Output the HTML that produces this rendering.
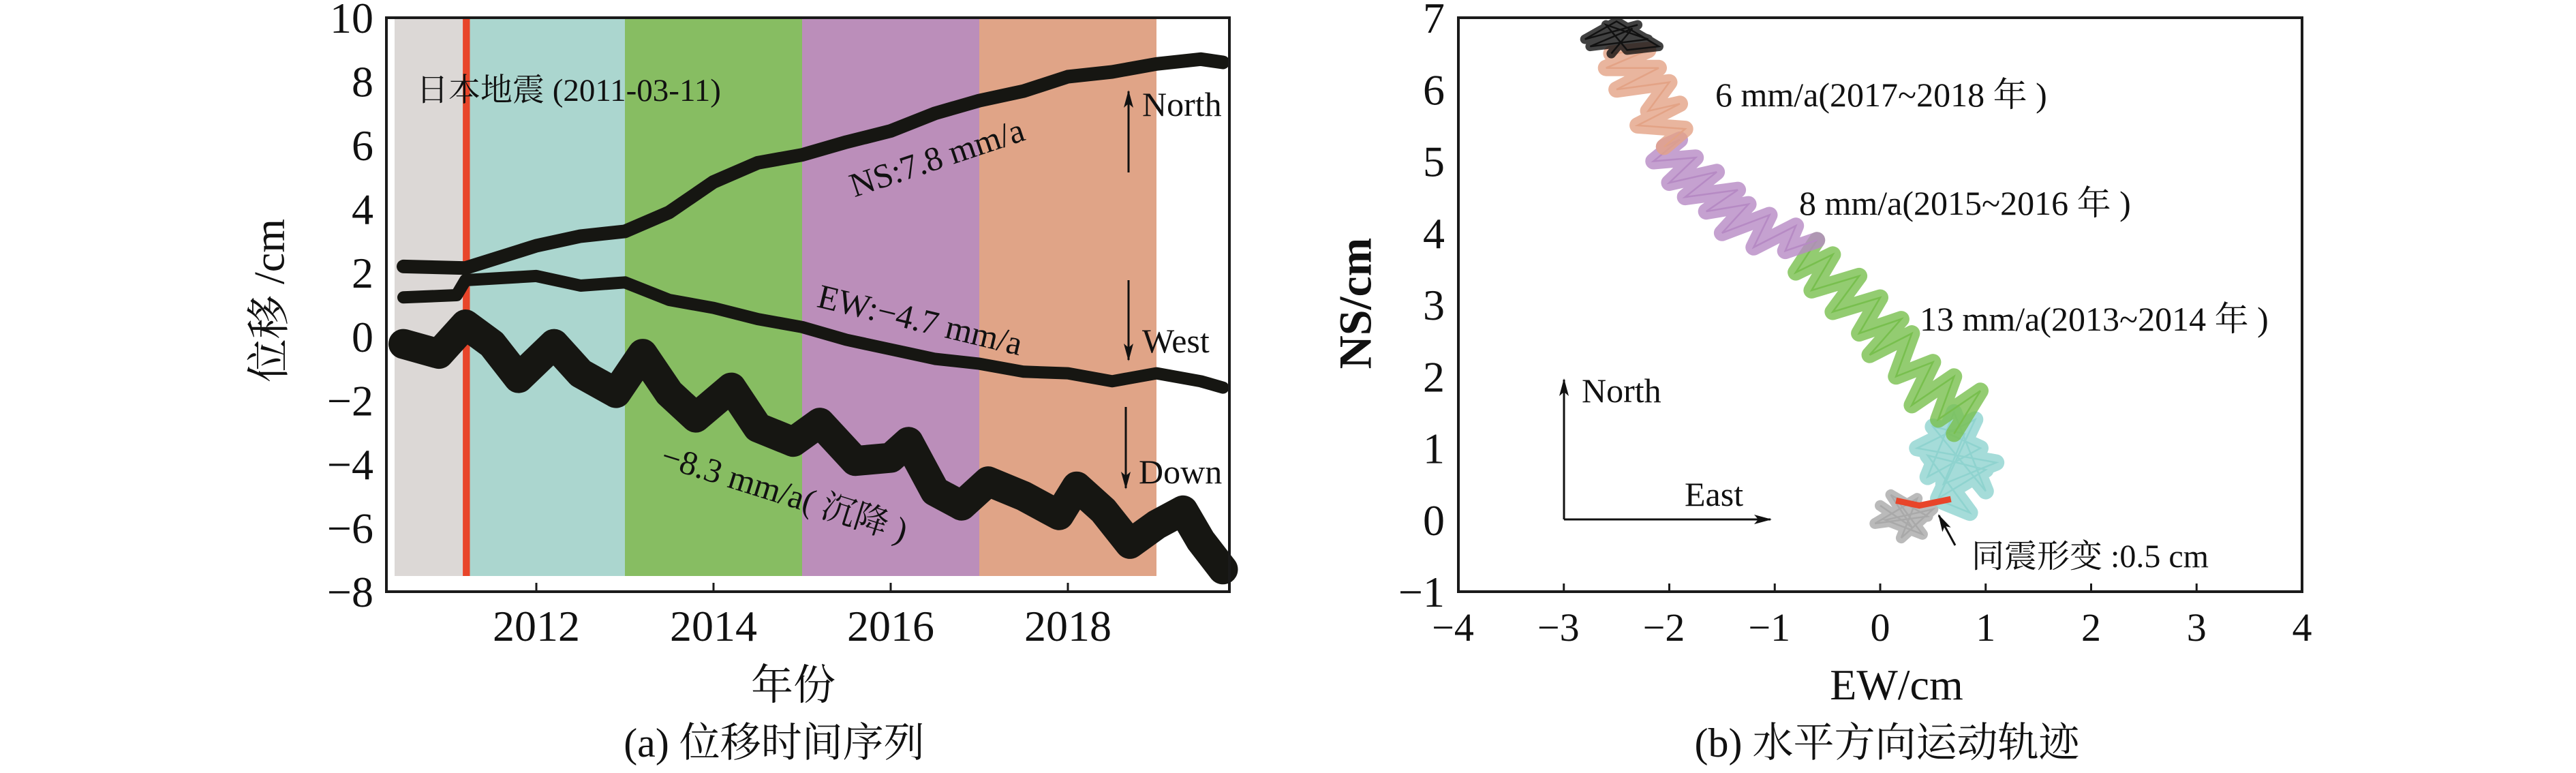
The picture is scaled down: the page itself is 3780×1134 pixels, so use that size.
<!DOCTYPE html>
<html><head><meta charset="utf-8"><style>
html,body{margin:0;padding:0;background:#fff;}
svg{display:block;}
text{font-family:"Liberation Serif","Noto Serif CJK SC","Noto Sans CJK SC",serif;fill:#111;}
</style></head><body>
<svg id="fig" width="3780" height="1134" viewBox="0 0 3780 1134" xmlns="http://www.w3.org/2000/svg">
<g id="pa"></g>
<g id="pb"></g>
</svg>
<script>
// ---------- Panel (a) data ----------
const bandStarts = [2010.40, 2011.25, 2013.0, 2015.0, 2017.0];
const bandEnds   = [2011.17, 2013.0, 2015.0, 2017.0, 2019.0];
const bandNames  = ['band-pre-quake','band-2011-2012','band-2013-2014','band-2015-2016','band-2017-2018'];
const bandColors = ['#dcd8d6','#abd6cf','#87bd62','#bb8eba','#e0a487'];
const quakeYear = 2011.17;
const yearTicks = [2012, 2014, 2016, 2018];
const dispTicks = [10, 8, 6, 4, 2, 0, -2, -4, -6, -8];
const nsYears = [2010.5,2011.2,2012,2012.5,2013,2013.5,2014,2014.5,2015,2015.5,2016,2016.5,2017,2017.5,2018,2018.5,2019,2019.5,2019.75];
const nsVals  = [2.2,2.15,2.85,3.15,3.3,3.9,4.85,5.45,5.7,6.1,6.45,7.0,7.4,7.7,8.15,8.3,8.55,8.7,8.6];
const ewYears = [2010.5,2011.1,2011.2,2012,2012.5,2013,2013.5,2014,2014.5,2015,2015.5,2016,2016.5,2017,2017.5,2018,2018.5,2019,2019.5,2019.75];
const ewVals  = [1.23,1.3,1.77,1.9,1.6,1.7,1.15,0.9,0.55,0.3,-0.1,-0.4,-0.7,-0.85,-1.1,-1.15,-1.4,-1.15,-1.4,-1.6];
const upYears = [2010.5,2010.9,2011.2,2011.5,2011.8,2012.2,2012.5,2012.9,2013.2,2013.5,2013.8,2014.2,2014.5,2014.9,2015.2,2015.6,2016.0,2016.2,2016.5,2016.8,2017.1,2017.5,2017.9,2018.1,2018.4,2018.7,2019.0,2019.3,2019.5,2019.75];
const upVals  = [-0.23,-0.54,0.38,-0.23,-1.3,-0.23,-1.15,-1.77,-0.54,-1.77,-2.54,-1.6,-2.85,-3.3,-2.7,-3.9,-3.8,-3.3,-4.85,-5.3,-4.54,-5.0,-5.6,-4.7,-5.45,-6.5,-5.9,-5.45,-6.4,-7.3];

// ---------- Panel (b) data ----------
const ewTicks = [-4,-3,-2,-1,0,1,2,3,4];
const nsTicks = [7,6,5,4,3,2,1,0,-1];
const trajGray   = [[0.0,0.2],[0.3,-0.1],[0.1,0.35],[0.45,0.05],[-0.05,-0.05],[0.35,0.3],[0.2,-0.25],[0.5,0.15],[0.05,0.0],[0.4,-0.2],[0.15,0.3],[0.3,0.0]];
const trajRed    = [[0.15,0.27],[0.37,0.2],[0.67,0.29]];
const trajCyan   = [[0.6,0.25],[0.85,0.1],[0.45,0.9],[1.0,0.7],[0.55,0.3],[0.9,1.4],[0.35,1.0],[1.1,0.8],[0.6,0.5],[0.8,1.2],[0.5,1.3],[1.0,0.4],[0.7,1.5],[0.45,0.6],[0.95,1.0],[0.65,1.2]];
const trajGreen  = [[0.7,1.2],[0.95,1.8],[0.55,1.4],[0.7,2.0],[0.3,1.6],[0.5,2.2],[0.15,2.0],[0.3,2.6],[-0.1,2.3],[0.2,2.8],[-0.2,2.6],[0.0,3.1],[-0.45,2.9],[-0.2,3.4],[-0.65,3.2],[-0.45,3.7],[-0.8,3.45],[-0.6,3.9]];
const trajPurple = [[-0.6,3.9],[-0.9,3.75],[-0.8,4.1],[-1.2,3.8],[-1.05,4.25],[-1.5,4.0],[-1.25,4.4],[-1.65,4.3],[-1.35,4.6],[-1.85,4.5],[-1.55,4.85],[-2.0,4.7],[-1.75,5.05],[-2.15,5.0],[-1.9,5.3],[-2.05,5.2]];
const trajOrange = [[-2.05,5.2],[-1.85,5.45],[-2.3,5.5],[-1.9,5.8],[-2.2,5.7],[-2.0,6.1],[-2.5,6.0],[-2.1,6.3],[-2.6,6.3],[-2.2,6.55],[-2.55,6.5]];
const trajBlack  = [[-2.55,6.5],[-2.35,6.85],[-2.75,6.6],[-2.2,6.7],[-2.6,6.9],[-2.4,6.55],[-2.1,6.6],[-2.5,6.95],[-2.8,6.7],[-2.3,6.9]];

const NS='http://www.w3.org/2000/svg';
const SERIF='"Liberation Serif", serif';
function mk(parent, tag, attrs, txt){
  const e=document.createElementNS(NS,tag);
  for(const k in attrs) e.setAttribute(k,attrs[k]);
  if(txt!==undefined) e.textContent=txt;
  parent.appendChild(e); return e;
}
const pa=document.getElementById('pa'), pb=document.getElementById('pb');

const ax=t=>787+(t-2012)*130;
const ay=v=>26+(10-v)*46.78;
const A={l:567,r:1804,t:26,b:868};

bandStarts.forEach((s,i)=>{
  const r=mk(pa,'rect',{x:ax(s),y:27.5,width:ax(bandEnds[i])-ax(s),height:845-27.5,fill:bandColors[i]});
  
  
});
const q=mk(pa,'rect',{x:ax(quakeYear),y:27.5,width:ax(2011.25)-ax(quakeYear),height:845-27.5,fill:'#e8452a'});



function series(years, vals, w, name){
  const d=years.map((t,i)=>(i?'L':'M')+ax(t).toFixed(1)+' '+ay(vals[i]).toFixed(1)).join(' ');
  const p=mk(pa,'path',{d:d,fill:'none',stroke:'#161612',"stroke-width":w,"stroke-linejoin":'round',"stroke-linecap":'round'});
  
  
}
series(nsYears, nsVals, 20, 'ns-series');
series(ewYears, ewVals, 18, 'ew-series');
series(upYears, upVals, 44, 'up-series');

const fa=mk(pa,'rect',{x:A.l,y:A.t,width:A.r-A.l,height:A.b-A.t,fill:'none',stroke:'#1a1a1a',"stroke-width":4});


yearTicks.forEach(t=>{
  const l=mk(pa,'line',{x1:ax(t),x2:ax(t),y1:A.b,y2:A.b-13,stroke:'#1a1a1a',"stroke-width":3});
  
  
  const tx=mk(pa,'text',{x:ax(t),y:940,"font-size":64,"font-family":SERIF,"text-anchor":'middle'},String(t));
  
  
});
dispTicks.forEach(v=>{
  const tx=mk(pa,'text',{x:548,y:ay(v)+22,"font-size":64,"font-family":SERIF,"text-anchor":'end'},v<0?'\u2212'+(-v):String(v));
  
  
});

const bx=e=>2140+(e+4)*154.75;
const by=n=>26+(7-n)*105.25;
const B={l:2140,r:3378,t:26,b:868};
function traj(pts,color,name,thick){
  const d=pts.map((p,i)=>(i?'L':'M')+bx(p[0]).toFixed(1)+' '+by(p[1]).toFixed(1)).join(' ');
  if(thick){
    const g=mk(pb,'path',{d:d,fill:'none',stroke:color,"stroke-width":thick,"stroke-opacity":0.8,"stroke-linejoin":'round',"stroke-linecap":'round'});
    
    
  }
  const p=mk(pb,'path',{d:d,fill:'none',stroke:color,"stroke-width":thick?2.5:9,"stroke-linejoin":'miter'});
  
  
}
traj(trajGray,'#a9a9a9','trajectory-pre-quake',16);
traj(trajCyan,'#8fd3cf','trajectory-2011-2012',24);
traj(trajGreen,'#78bf4e','trajectory-2013-2014',24);
traj(trajPurple,'#b68ac4','trajectory-2015-2016',24);
traj(trajOrange,'#e3a386','trajectory-2017-2018',24);
traj(trajBlack,'#111','trajectory-2019',14);
traj(trajRed,'#e8452a','trajectory-coseismic',0);

const fb=mk(pb,'rect',{x:B.l,y:B.t,width:B.r-B.l,height:B.b-B.t,fill:'none',stroke:'#1a1a1a',"stroke-width":4});


ewTicks.forEach(v=>{
  const l=mk(pb,'line',{x1:bx(v),x2:bx(v),y1:B.b,y2:B.b-12,stroke:'#1a1a1a',"stroke-width":3});
  
  
  const tx=mk(pb,'text',{x:bx(v)-(v<0?8:0),y:940,"font-size":58,"font-family":'"Liberation Sans", sans-serif',"text-anchor":'middle',fill:'#222'},v<0?'\u2212'+(-v):String(v));
  
  
});
nsTicks.forEach(v=>{
  const tx=mk(pb,'text',{x:2120,y:by(v)+22,"font-size":64,"font-family":SERIF,"text-anchor":'end'},v<0?'\u2212'+(-v):String(v));
  
  
});
</script>
<svg width="3780" height="1134" style="position:absolute;left:0;top:0" xmlns="http://www.w3.org/2000/svg">
<defs><marker id="ah2" markerWidth="26" markerHeight="14" refX="24" refY="7" orient="auto" markerUnits="userSpaceOnUse"><path d="M0,0 L26,7 L0,14 L6,7 z" fill="#111"/></marker></defs>
<text x="611" y="148" font-size="47">日本地震 (2011-03-11)</text>
<text x="1375" y="248" font-size="50" text-anchor="middle" transform="rotate(-18.5 1375 232)">NS:7.8 mm/a</text>
<text x="1350" y="486" font-size="50" text-anchor="middle" transform="rotate(13.5 1350 470)">EW:−4.7 mm/a</text>
<text x="1151" y="740" font-size="50" text-anchor="middle" transform="rotate(17.4 1151 724)">−8.3 mm/a( 沉降 )</text>
<line x1="1656" y1="253" x2="1656" y2="134" stroke="#111" stroke-width="3" marker-end="url(#ah2)"/>
<text x="1676" y="170" font-size="50">North</text>
<line x1="1656" y1="411" x2="1656" y2="528" stroke="#111" stroke-width="3" marker-end="url(#ah2)"/>
<text x="1676" y="517" font-size="50">West</text>
<line x1="1652" y1="597" x2="1652" y2="716" stroke="#111" stroke-width="3" marker-end="url(#ah2)"/>
<text x="1671" y="709" font-size="50">Down</text>
<text x="402" y="441" font-size="64" text-anchor="middle" dominant-baseline="middle" transform="rotate(-90 402 441)">位移 /cm</text>
<text x="1164" y="1026" font-size="62" text-anchor="middle">年份</text>
<text x="1136" y="1110" font-size="60" text-anchor="middle">(a) 位移时间序列</text>
<text x="2517" y="156" font-size="50">6 mm/a(2017~2018 年 )</text>
<text x="2640" y="315" font-size="50">8 mm/a(2015~2016 年 )</text>
<text x="2817" y="485" font-size="50">13 mm/a(2013~2014 年 )</text>
<line x1="2295" y1="762" x2="2295" y2="557" stroke="#111" stroke-width="3" marker-end="url(#ah2)"/>
<text x="2321" y="590" font-size="50">North</text>
<line x1="2295" y1="762" x2="2598" y2="762" stroke="#111" stroke-width="3" marker-end="url(#ah2)"/>
<text x="2472" y="742" font-size="50">East</text>
<line x1="2869" y1="800" x2="2845" y2="756" stroke="#111" stroke-width="3" marker-end="url(#ah2)"/>
<text x="2893" y="832" font-size="48">同震形变 :0.5 cm</text>
<text x="1996" y="445" font-size="68" font-weight="bold" text-anchor="middle" dominant-baseline="middle" transform="rotate(-90 1996 445)">NS/cm</text>
<text x="2783" y="1026" font-size="64" text-anchor="middle">EW/cm</text>
<text x="2769" y="1110" font-size="60" text-anchor="middle">(b) 水平方向运动轨迹</text>
</svg>
</body></html>
